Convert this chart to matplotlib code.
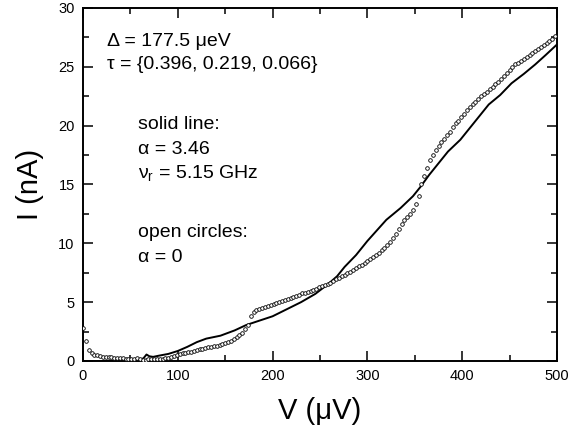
import numpy as np
import matplotlib
matplotlib.use('Agg')
import matplotlib.pyplot as plt
from matplotlib.ticker import MultipleLocator

# open circles: alpha = 0
v_circ = [0, 3, 6, 9, 12, 15, 18, 21, 24, 27, 30, 33, 36, 39, 42, 45, 48, 51, 54, 57,
          60, 63, 66, 69, 72, 75, 78, 81, 84, 87, 90, 93, 96, 99, 102, 105, 108, 111, 114, 117,
          120, 123, 126, 129, 132, 135, 138, 141, 144, 147, 150, 153, 156, 159, 162, 165, 168, 171, 174, 177,
          180, 183, 186, 189, 192, 195, 198, 201, 204, 207, 210, 213, 216, 219, 222, 225, 228, 231, 234, 237,
          240, 243, 246, 249, 252, 255, 258, 261, 264, 267, 270, 273, 276, 279, 282, 285, 288, 291, 294, 297,
          300, 303, 306, 309, 312, 315, 318, 321, 324, 327, 330, 333, 336, 339, 342, 345, 348, 351, 354, 357,
          360, 363, 366, 369, 372, 375, 378, 381, 384, 387, 390, 393, 396, 399, 402, 405, 408, 411, 414, 417,
          420, 423, 426, 429, 432, 435, 438, 441, 444, 447, 450, 453, 456, 459, 462, 465, 468, 471, 474, 477,
          480, 483, 486, 489, 492, 495, 498]
i_circ = [2.8, 1.7, 0.95, 0.7, 0.55, 0.5, 0.42, 0.38, 0.35, 0.33, 0.3, 0.28, 0.25, 0.22, 0.22, 0.2, 0.2, 0.18, 0.2, 0.25,
          0.15, 0.1, 0.12, 0.15, 0.15, 0.15, 0.18, 0.18, 0.2, 0.22, 0.28, 0.35, 0.42, 0.5, 0.6, 0.65, 0.7, 0.75, 0.8, 0.88,
          0.93, 1.0, 1.05, 1.1, 1.15, 1.2, 1.25, 1.3, 1.38, 1.45, 1.52, 1.62, 1.72, 1.85, 2.0, 2.2, 2.4, 2.7, 3.1, 3.8,
          4.2, 4.35, 4.45, 4.5, 4.6, 4.7, 4.78, 4.85, 4.95, 5.0, 5.08, 5.15, 5.25, 5.35, 5.45, 5.55, 5.65, 5.75, 5.82, 5.9,
          5.95, 6.0, 6.15, 6.25, 6.35, 6.45, 6.55, 6.65, 6.8, 6.95, 7.05, 7.2, 7.35, 7.5, 7.6, 7.75, 7.9, 8.05, 8.2, 8.35,
          8.5, 8.65, 8.8, 9.0, 9.2, 9.4, 9.6, 9.85, 10.1, 10.45, 10.8, 11.2, 11.6, 11.95, 12.2, 12.5, 12.8, 13.3, 14.0, 15.0,
          15.7, 16.4, 17.1, 17.5, 17.9, 18.3, 18.6, 18.9, 19.2, 19.5, 19.9, 20.2, 20.4, 20.7, 21.0, 21.3, 21.6, 21.8, 22.0, 22.3,
          22.5, 22.7, 22.9, 23.1, 23.3, 23.5, 23.7, 24.0, 24.2, 24.5, 24.7, 25.0, 25.2, 25.3, 25.5, 25.7, 25.85, 26.0, 26.2, 26.35,
          26.5, 26.65, 26.85, 27.0, 27.2, 27.4, 27.6]

# solid line: alpha = 3.46, nu_r = 5.15 GHz
v_line = [0, 30, 60, 64, 67, 70, 74, 80, 90, 100, 110, 120, 130, 145, 160, 172, 185, 200, 215, 230,
          245, 258, 268, 276, 288, 300, 310, 320, 335, 348, 356, 365, 375, 385, 398, 410, 420, 428, 440, 452,
          465, 477, 488, 500]
i_line = [0.0, 0.0, 0.05, 0.25, 0.55, 0.4, 0.35, 0.45, 0.6, 0.85, 1.2, 1.6, 1.9, 2.15, 2.6, 3.05, 3.4, 3.8, 4.4, 5.0,
          5.7, 6.5, 7.2, 8.0, 9.0, 10.2, 11.1, 12.0, 13.0, 14.0, 14.8, 15.8, 16.8, 17.8, 18.8, 20.0, 21.0, 21.8, 22.6, 23.6,
          24.4, 25.2, 26.0, 26.9]

# annotation text: (x, y in axes fraction, string)
annot = [(0.05, 0.904, "Δ = 177.5 μeV"),
         (0.05, 0.839, "τ = {0.396, 0.219, 0.066}"),
         (0.116, 0.669, "solid line:"),
         (0.116, 0.598, "α = 3.46"),
         (0.116, 0.530, r"ν$_\mathregular{r}$ = 5.15 GHz"),
         (0.116, 0.363, "open circles:"),
         (0.116, 0.292, "α = 0")]

plt.rcParams['font.family'] = ['Liberation Sans', 'DejaVu Sans']

fig = plt.figure(figsize=(5.7, 4.3), dpi=100)
ax = fig.add_axes([0.1456, 0.1605, 0.8316, 0.8209])

ax.plot(v_line, i_line, color='black', lw=1.4, zorder=3)
ax.plot(v_circ, i_circ, ls='none', marker='o', ms=2.6, mfc='white', mec='black', mew=0.6, zorder=4)

ax.set_xlim(0, 500)
ax.set_ylim(0, 30)
ax.xaxis.set_major_locator(MultipleLocator(100))
ax.xaxis.set_minor_locator(MultipleLocator(50))
ax.yaxis.set_major_locator(MultipleLocator(5))
ax.yaxis.set_minor_locator(MultipleLocator(2.5))
ax.tick_params(which='both', direction='in', top=True, right=True, width=1.1, labelsize=10.5)
ax.tick_params(which='major', length=7, pad=6)
ax.tick_params(which='minor', length=4)
for s in ax.spines.values():
    s.set_linewidth(1.4)

ax.set_xlabel("V (μV)", fontsize=21, labelpad=10)
ax.set_ylabel("I (nA)", fontsize=21, labelpad=10)

for x, y, t in annot:
    ax.text(x, y, t, transform=ax.transAxes, fontsize=14, va='center')

fig.savefig('out.png', dpi=100)
